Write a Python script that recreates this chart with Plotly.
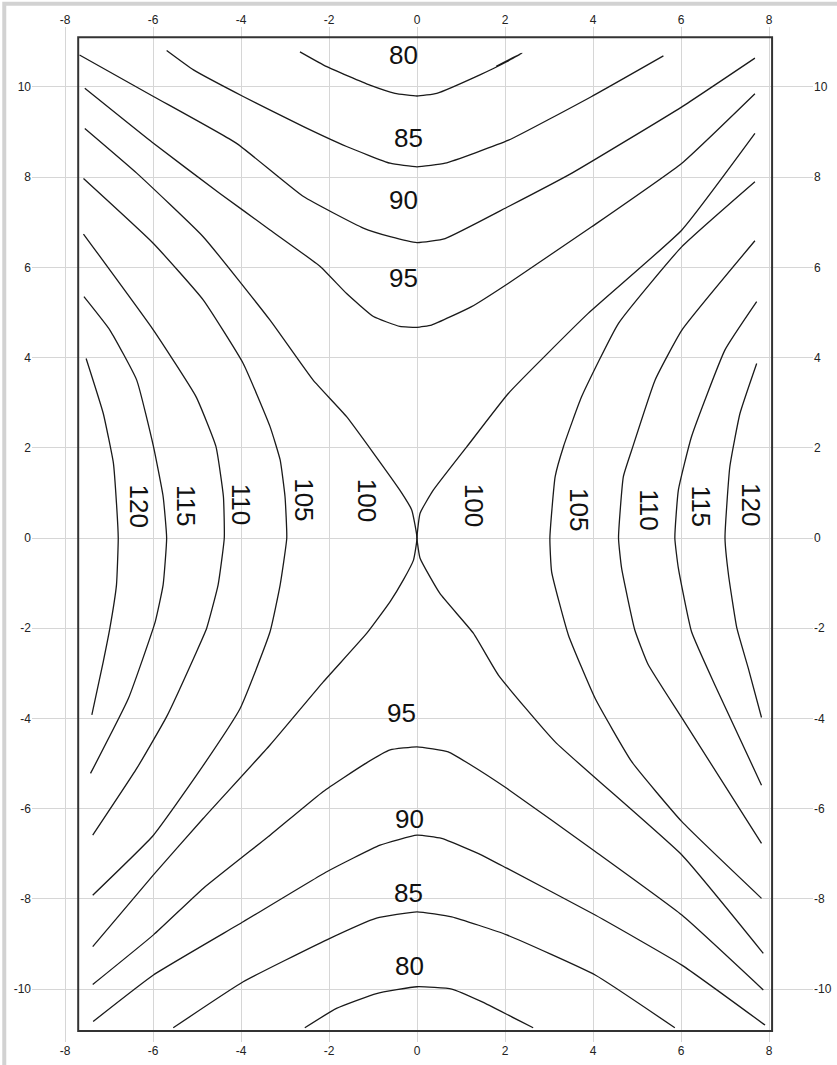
import plotly.graph_objects as go

# ---------------- data: contour levels and traced contour paths (x, y) ----------------
levels = [80, 85, 90, 95, 100, 105, 110, 115, 120]

c80_top = [(-2.66, 10.78), (-2.05, 10.45), (-1.07, 10.04), (-0.5, 9.86), (0.0, 9.80),
           (0.45, 9.86), (1.43, 10.27), (2.04, 10.56), (2.38, 10.75), (1.80, 10.46)]
c85_top = [(-5.69, 10.81), (-5.08, 10.38), (-3.95, 9.79), (-2.58, 9.12), (-1.60, 8.68),
           (-0.61, 8.31), (0.0, 8.23), (0.64, 8.31), (2.08, 8.82), (3.97, 9.79), (5.60, 10.69)]
c90_top = [(-7.67, 10.71), (-5.99, 9.79), (-4.10, 8.75), (-2.58, 7.57), (-1.22, 6.87),
           (-0.61, 6.68), (0.0, 6.55), (0.64, 6.64), (2.08, 7.35), (3.52, 8.09), (6.02, 9.56),
           (7.68, 10.64)]
c95_top = [(-7.55, 9.97), (-5.99, 8.75), (-4.48, 7.64), (-3.34, 6.83), (-2.20, 6.02),
           (-1.60, 5.42), (-0.99, 4.91), (-0.39, 4.69), (0.0, 4.67), (0.33, 4.72), (1.24, 5.13),
           (2.08, 5.65), (3.97, 6.90), (6.02, 8.31), (7.68, 9.85)]
c100_left = [(-7.55, 9.08), (-6.37, 8.09), (-4.86, 6.68), (-3.34, 4.83), (-2.36, 3.50),
             (-1.60, 2.69), (-0.39, 1.06), (-0.12, 0.62), (0.0, 0.0), (-0.08, -0.49),
             (-0.31, -0.93), (-0.61, -1.41), (-1.14, -2.11), (-2.13, -3.19), (-3.34, -4.59),
             (-4.86, -6.22), (-5.99, -7.47), (-7.37, -9.06)]
c100_right = [(7.68, 8.97), (6.02, 6.83), (3.89, 4.98), (2.08, 3.21), (1.13, 2.02),
              (0.37, 1.06), (0.07, 0.55), (0.0, 0.0), (0.07, -0.45), (0.52, -1.23),
              (1.28, -2.11), (1.85, -3.04), (3.14, -4.52), (6.02, -7.03), (7.87, -9.21)]
c105_left = [(-7.58, 7.97), (-5.99, 6.53), (-4.86, 5.28), (-3.95, 3.87), (-3.34, 2.47),
             (-3.11, 1.73), (-3.00, 0.92), (-2.96, 0.0), (-3.11, -1.04), (-3.34, -2.08),
             (-4.02, -3.78), (-5.01, -5.26), (-5.99, -6.59), (-7.37, -7.92)]
c105_right = [(7.68, 7.90), (6.02, 6.46), (4.58, 4.76), (3.74, 3.13), (3.33, 2.03),
              (3.14, 1.36), (3.02, 0.0), (3.06, -0.75), (3.44, -2.15), (4.05, -3.56),
              (4.88, -4.96), (6.02, -6.29), (7.83, -7.99)]
c110_left = [(-7.58, 6.74), (-5.99, 4.61), (-5.02, 3.13), (-4.57, 2.03), (-4.40, 0.92),
             (-4.38, 0.0), (-4.52, -1.04), (-4.78, -2.00), (-5.01, -2.52), (-5.69, -3.96),
             (-6.37, -5.11), (-7.37, -6.59)]
c110_right = [(7.68, 6.59), (6.02, 4.61), (5.41, 3.50), (4.88, 1.95), (4.69, 1.36),
              (4.58, 0.0), (4.65, -0.67), (4.95, -2.04), (5.25, -2.80), (6.02, -3.99),
              (7.83, -6.77)]
c115_left = [(-7.57, 5.35), (-6.98, 4.61), (-6.37, 3.50), (-5.99, 2.03), (-5.77, 0.92),
             (-5.69, 0.0), (-5.77, -1.04), (-5.95, -1.86), (-6.56, -3.56), (-7.42, -5.22)]
c115_right = [(7.72, 5.24), (7.00, 4.17), (6.24, 2.25), (5.94, 1.06), (5.86, 0.0),
              (5.94, -0.67), (6.24, -2.08), (6.77, -3.26), (7.83, -5.48)]
c120_left = [(-7.52, 3.98), (-7.13, 2.76), (-6.90, 1.66), (-6.83, 0.77), (-6.79, 0.0),
             (-6.83, -1.04), (-6.98, -2.00), (-7.13, -2.74), (-7.39, -3.92)]
c120_right = [(7.72, 3.87), (7.34, 2.76), (7.11, 1.58), (7.00, 0.0), (7.08, -0.82),
              (7.27, -2.00), (7.53, -2.89), (7.83, -3.98)]
c95_bot = [(-7.37, -9.90), (-5.99, -8.80), (-4.86, -7.77), (-3.34, -6.59), (-2.13, -5.62),
           (-1.22, -5.03), (-0.61, -4.70), (0.0, -4.63), (0.71, -4.74), (1.17, -5.00),
           (2.04, -5.55), (4.05, -6.95), (6.02, -8.36), (7.87, -10.02)]
c90_bot = [(-7.36, -10.72), (-5.99, -9.69), (-3.95, -8.51), (-2.05, -7.40), (-0.84, -6.81),
           (0.0, -6.59), (0.56, -6.66), (1.47, -7.03), (2.04, -7.32), (4.05, -8.36),
           (6.02, -9.47), (7.91, -10.80)]
c85_bot = [(-5.54, -10.86), (-3.95, -9.84), (-2.05, -8.91), (-0.92, -8.43), (0.0, -8.29),
           (0.79, -8.40), (2.04, -8.80), (4.05, -9.69), (5.86, -10.86)]
c80_bot = [(-2.55, -10.86), (-1.83, -10.43), (-0.92, -10.10), (0.0, -9.95), (0.79, -10.00),
           (1.47, -10.28), (2.08, -10.58), (2.64, -10.86), (2.15, -10.62)]

paths = [c80_top, c85_top, c90_top, c95_top, c100_left, c100_right, c105_left, c105_right,
         c110_left, c110_right, c115_left, c115_right, c120_left, c120_right,
         c95_bot, c90_bot, c85_bot, c80_bot]

# contour label positions: (text, x, y, angle)
label_text = ["80", "85", "90", "95", "95", "90", "85", "80",
              "120", "115", "110", "105", "100", "100", "105", "110", "115", "120"]
label_x = [-0.30, -0.20, -0.30, -0.30, -0.36, -0.18, -0.20, -0.18,
           -6.32, -5.25, -4.00, -2.57, -1.13, 1.30, 3.68, 5.27, 6.45, 7.59]
label_y = [10.71, 8.87, 7.49, 5.77, -3.87, -6.23, -7.88, -9.48,
           0.70, 0.73, 0.76, 0.84, 0.84, 0.73, 0.62, 0.62, 0.70, 0.73]
label_angle = [0] * 8 + [90] * 10

tick_x = [-8, -6, -4, -2, 0, 2, 4, 6, 8]
tick_y = [-10, -8, -6, -4, -2, 0, 2, 4, 6, 8, 10]

# ---------------- figure ----------------
fig = go.Figure()
for p in paths:
    fig.add_trace(go.Scatter(x=[pt[0] for pt in p], y=[pt[1] for pt in p], mode="lines",
                             line=dict(color="#1a1a1a", width=1.3, shape="spline",
                                       smoothing=0.4),
                             showlegend=False, hoverinfo="skip"))
# invisible trace for mirrored (top/right) axes
fig.add_trace(go.Scatter(x=[0], y=[0], xaxis="x2", yaxis="y2", mode="markers",
                         marker=dict(opacity=0), showlegend=False, hoverinfo="skip"))

for t, x, y, a in zip(label_text, label_x, label_y, label_angle):
    fig.add_annotation(x=x, y=y, text=t, textangle=a, showarrow=False,
                       xanchor="center", yanchor="middle",
                       font=dict(family="Arial, Liberation Sans", size=26, color="#111"))

XR = [-8.75, 9.0]
YR = [-11.175, 11.33]
tickfont = dict(family="Arial, Liberation Sans", size=12, color="#222222")
axcommon = dict(zeroline=False, showline=False, ticks="", tickfont=tickfont, automargin=False)

fig.update_layout(
    width=837, height=1065, autosize=False,
    margin=dict(l=32, r=24, t=27, b=23, pad=0),
    paper_bgcolor="white", plot_bgcolor="white",
    xaxis=dict(range=XR, tickvals=tick_x, ticktext=[str(v) for v in tick_x],
               showgrid=True, gridcolor="#d6d6d6", gridwidth=1, **axcommon),
    yaxis=dict(range=YR, tickvals=tick_y, ticktext=[str(v) for v in tick_y],
               showgrid=True, gridcolor="#d6d6d6", gridwidth=1, **axcommon),
    xaxis2=dict(range=XR, overlaying="x", side="top", matches="x", tickvals=tick_x,
                ticktext=[str(v) for v in tick_x], showgrid=False, **axcommon),
    yaxis2=dict(range=YR, overlaying="y", side="right", matches="y", tickvals=tick_y,
                ticktext=[str(v) for v in tick_y], showgrid=False, **axcommon),
)

# data frame box
fig.add_shape(type="rect", xref="x", yref="y", x0=-7.70, x1=8.07, y0=-10.93, y1=11.10,
              line=dict(color="#333333", width=2), layer="above")
# light grey outer frame (top/left edges visible)
fig.add_shape(type="rect", xref="paper", yref="paper", x0=-0.0355, x1=1.3, y0=-0.2, y1=1.0230,
              line=dict(color="#d2d2d2", width=4), layer="above")

fig.write_html("out.html", config={"displayModeBar": False},
               post_script="document.body.style.margin='0';")
